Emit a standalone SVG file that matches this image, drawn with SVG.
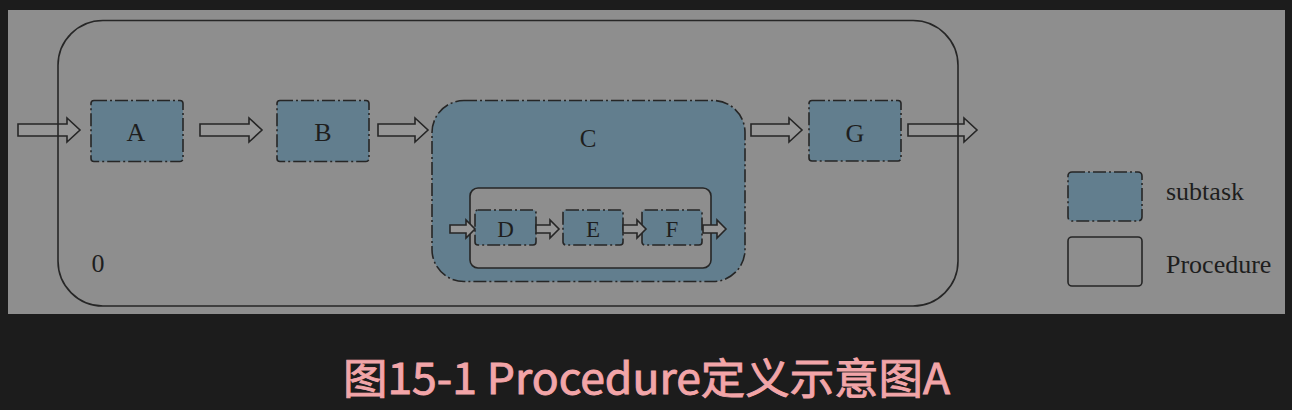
<svg xmlns="http://www.w3.org/2000/svg" width="1292" height="410" viewBox="0 0 1292 410">
<style>
.lbl{font-family:"Liberation Serif","Times New Roman",serif;fill:#1e1e1e;text-anchor:middle}
.task{fill:#627e8e;stroke:#262626;stroke-width:1.6;stroke-dasharray:13 3 2 3}
.proc{fill:none;stroke:#262626;stroke-width:1.6}
.arr{fill:#979797;stroke:#262626;stroke-width:1.6;stroke-linejoin:miter}
.cap{font-family:"Noto Sans CJK SC","Noto Sans",sans-serif;fill:#f2a5a8;font-weight:400;stroke:#f2a5a8;stroke-width:0.9}
</style>
<rect x="0" y="0" width="1292" height="410" fill="#1c1c1c"/>
<rect x="8" y="10" width="1277" height="304" fill="#8e8e8e"/>
<g id="C">
<rect class="task" x="432" y="100.5" width="313" height="181" rx="32"/>
<text class="lbl" x="588" y="147" font-size="25">C</text>
<rect class="proc" x="470" y="188" width="241" height="80" rx="8" style="fill:#8e8e8e"/>
</g>
<g id="D"><rect class="task" x="475" y="210" width="61" height="35" rx="3"/><text class="lbl" x="505.5" y="237" font-size="23">D</text></g>
<g id="E"><rect class="task" x="563" y="210" width="60" height="35" rx="3"/><text class="lbl" x="593" y="237" font-size="23">E</text></g>
<g id="F"><rect class="task" x="642" y="210" width="60" height="35" rx="3"/><text class="lbl" x="672" y="237" font-size="23">F</text></g>
<g id="connectors">
<path class="arr" d="M18,124 H67 V118 L80,130 L67,142 V136 H18 Z"/>
<path class="arr" d="M200,124 H249 V118 L262,130 L249,142 V136 H200 Z"/>
<path class="arr" d="M378,124 H415 V118 L428,130 L415,142 V136 H378 Z"/>
<path class="arr" d="M751,124 H789 V118 L802,130 L789,142 V136 H751 Z"/>
<path class="arr" d="M908,124 H964 V118 L977,130 L964,142 V136 H908 Z"/>
<path class="arr" d="M450,225 H466 V220 L475,229 L466,238 V233 H450 Z"/>
<path class="arr" d="M536,225 H550 V220 L559,229 L550,238 V233 H536 Z"/>
<path class="arr" d="M623,225 H637 V220 L646,229 L637,238 V233 H623 Z"/>
<path class="arr" d="M703,225 H717 V220 L726,229 L717,238 V233 H703 Z"/>
</g>
<g id="procedure0">
<rect class="proc" x="58" y="20.5" width="900" height="285.5" rx="45"/>
<text class="lbl" x="98" y="272" font-size="26">0</text>
</g>
<g id="A"><rect class="task" x="91" y="100.5" width="92" height="61" rx="3"/><text class="lbl" x="136" y="141" font-size="26">A</text></g>
<g id="B"><rect class="task" x="277" y="100.5" width="92" height="61" rx="3"/><text class="lbl" x="323" y="141" font-size="26">B</text></g>
<g id="G"><rect class="task" x="809" y="100.5" width="92" height="60.5" rx="3"/><text class="lbl" x="855" y="142" font-size="26">G</text></g>
<g id="legend">
<rect class="task" x="1068" y="172" width="74" height="49" rx="4"/>
<text class="lbl" x="1166" y="200" font-size="26" style="text-anchor:start">subtask</text>
<rect class="proc" x="1068" y="237" width="74" height="49" rx="4"/>
<text class="lbl" x="1166" y="273" font-size="26" style="text-anchor:start">Procedure</text>
</g>
<text class="cap" x="343" y="394" font-size="42" textLength="607" lengthAdjust="spacingAndGlyphs">图15-1 Procedure定义示意图A</text>
</svg>
